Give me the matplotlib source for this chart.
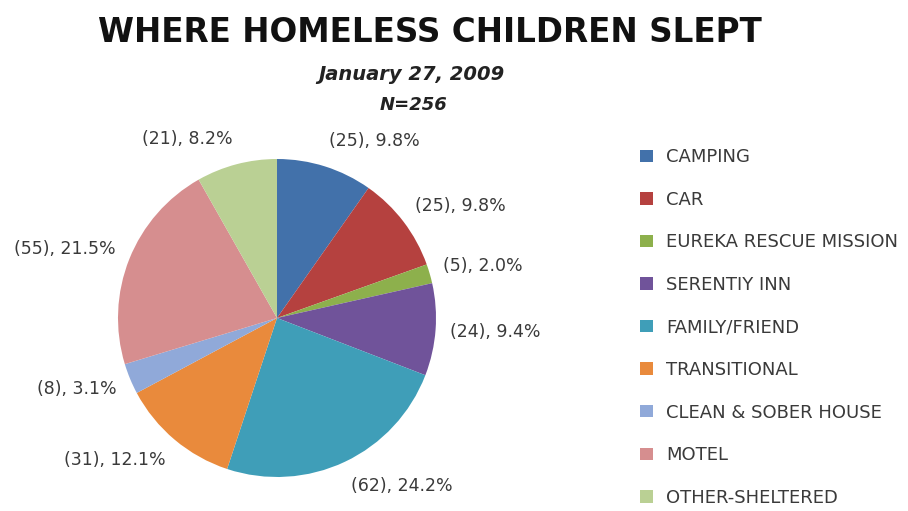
import matplotlib.pyplot as plt
import matplotlib.patches as patches

categories = ["CAMPING", "CAR", "EUREKA RESCUE MISSION", "SERENTIY INN", "FAMILY/FRIEND",
              "TRANSITIONAL", "CLEAN & SOBER HOUSE", "MOTEL", "OTHER-SHELTERED"]
counts = [25, 25, 5, 24, 62, 31, 8, 55, 21]
colors = ["#4271AA", "#B5413F", "#8DB04C", "#70539A", "#3F9EB8",
          "#E98A3C", "#90A9D9", "#D68E8F", "#BAD094"]

total = sum(counts)
labels = [f"({c}), {c / total * 100:.1f}%" for c in counts]

plt.rcParams['font.family'] = ['DejaVu Sans']
text_color = "#3a3a3a"

fig = plt.figure(figsize=(9.08, 5.11), dpi=100)
W, H = 908, 511
cx, cy, r = 277, 318, 159
ax = fig.add_axes([(cx - r) / W, (H - cy - r) / H, 2 * r / W, 2 * r / H])

wedges, texts = ax.pie(counts, labels=labels, colors=colors, startangle=90, counterclock=False,
                       labeldistance=1.09, wedgeprops=dict(linewidth=0),
                       textprops=dict(fontsize=12.5, color=text_color))
# excel pushes the labels a bit further out at top and bottom
for t in texts:
    x, y = t.get_position()
    t.set_position((x, y * 1.07))
ax.set_xlim(-1, 1)
ax.set_ylim(-1, 1)
ax.set_aspect('auto')
ax.axis('off')

fig.text(430 / W, 1 - 33 / H, "WHERE HOMELESS CHILDREN SLEPT", ha='center', va='center',
         fontsize=23.5, fontweight='bold', color='#111111')
fig.text(411 / W, 1 - 74 / H, "January 27, 2009", ha='center', va='center',
         fontsize=14, fontweight='bold', fontstyle='italic', color='#222222')
fig.text(414 / W, 1 - 105 / H, "N=256", ha='center', va='center',
         fontsize=13, fontweight='bold', fontstyle='italic', color='#222222')

handles = [patches.Patch(facecolor=c, edgecolor='none') for c in colors]
leg = fig.legend(handles, categories, loc='upper left', bbox_to_anchor=(624 / W, 1 - 132 / H),
                 frameon=False, fontsize=13, labelspacing=1.36, handlelength=0.68,
                 handleheight=0.68, handletextpad=0.75, labelcolor=text_color)

fig.savefig("out.png", dpi=100)
